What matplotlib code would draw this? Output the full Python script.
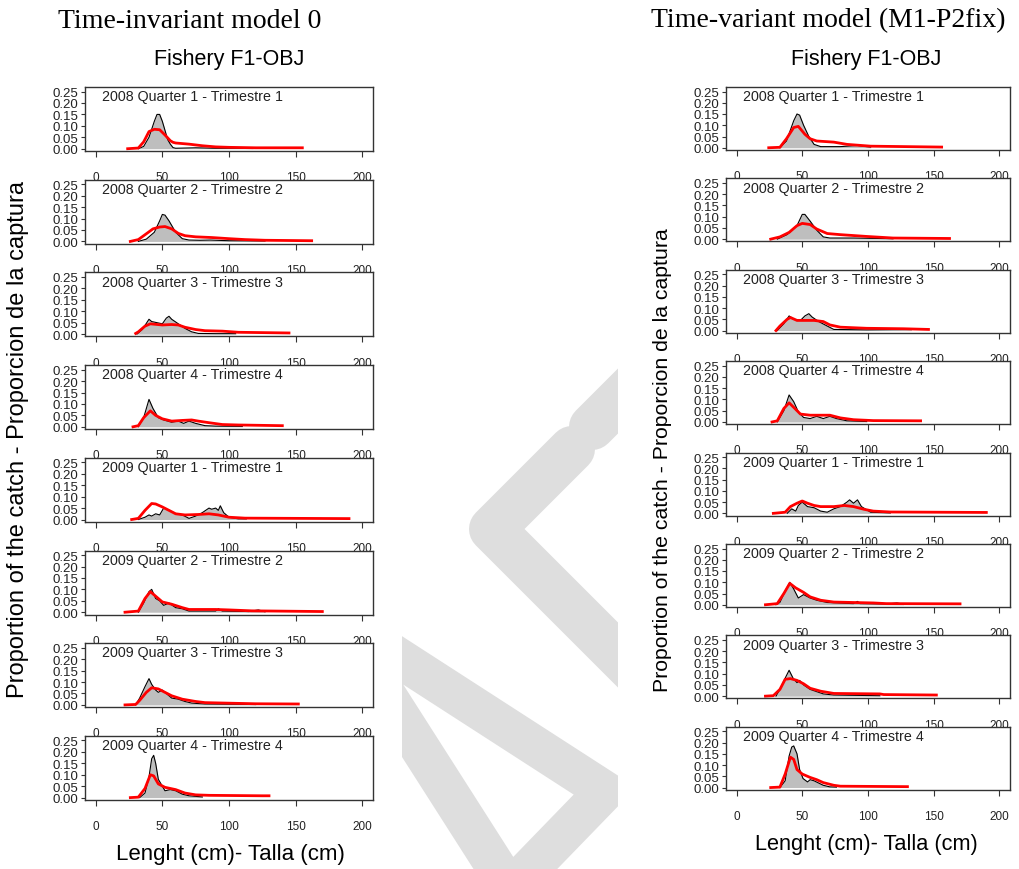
import matplotlib
matplotlib.use("Agg")
import matplotlib.pyplot as plt
from matplotlib.patches import Rectangle

plt.rcParams['font.family'] = ['Liberation Sans', 'DejaVu Sans']

W, H = 1020, 870

# panel titles
quarters = ["2008 Quarter 1 - Trimestre 1", "2008 Quarter 2 - Trimestre 2",
            "2008 Quarter 3 - Trimestre 3", "2008 Quarter 4 - Trimestre 4",
            "2009 Quarter 1 - Trimestre 1", "2009 Quarter 2 - Trimestre 2",
            "2009 Quarter 3 - Trimestre 3", "2009 Quarter 4 - Trimestre 4"]
x_ticks = [0, 50, 100, 150, 200]
y_ticks = [0.00, 0.05, 0.10, 0.15, 0.20, 0.25]

# Time-invariant model 0: observed (grey) and predicted (red)
inv_obs_x = [
    [32, 36, 40, 44, 46, 48, 50, 52, 54, 56, 58, 60, 75, 90, 118],
    [32, 38, 44, 48, 50, 52, 55, 60, 65, 70, 78, 86, 100, 127],
    [31, 35, 40, 42, 46, 50, 53, 55, 57, 62, 67, 72, 77, 90, 105],
    [32, 36, 40, 43, 47, 51, 57, 62, 66, 70, 75, 82, 90, 110],
    [32, 37, 40, 42, 45, 48, 51, 55, 60, 65, 70, 75, 80, 85, 87, 90, 92, 93.5, 96, 100, 107, 113],
    [32, 36, 40, 42, 45, 48, 51, 55, 60, 65, 70, 90, 92, 95, 115, 122, 127],
    [30, 33, 37, 40, 42, 45, 47, 50, 53, 57, 62, 67, 72, 82, 120],
    [33, 37, 40, 42, 43.5, 45, 47, 50, 52, 56, 60, 65, 70, 80],
]
inv_obs_y = [
    [0, 0.01, 0.05, 0.12, 0.15, 0.15, 0.12, 0.08, 0.04, 0.02, 0.005, 0.002, 0.004, 0.002, 0.002],
    [0, 0.01, 0.04, 0.09, 0.118, 0.115, 0.09, 0.04, 0.012, 0.006, 0.005, 0.006, 0.003, 0.002],
    [0, 0.02, 0.065, 0.055, 0.05, 0.045, 0.07, 0.078, 0.065, 0.045, 0.025, 0.01, 0.003, 0.002, 0.002],
    [0, 0.04, 0.12, 0.08, 0.04, 0.03, 0.02, 0.025, 0.015, 0.025, 0.015, 0.005, 0.003, 0.002],
    [0, 0.01, 0.02, 0.015, 0.025, 0.02, 0.05, 0.04, 0.025, 0.02, 0.005, 0.015, 0.03, 0.05, 0.045, 0.05, 0.04, 0.06, 0.03, 0.01, 0.003, 0.003],
    [0, 0.04, 0.09, 0.1, 0.06, 0.05, 0.03, 0.04, 0.02, 0.015, 0.005, 0.005, 0.015, 0.005, 0.003, 0.01, 0.002],
    [0, 0.03, 0.08, 0.115, 0.09, 0.065, 0.055, 0.065, 0.05, 0.03, 0.025, 0.015, 0.008, 0.004, 0.002],
    [0, 0.02, 0.09, 0.17, 0.185, 0.15, 0.08, 0.05, 0.03, 0.035, 0.03, 0.015, 0.008, 0.003],
]
inv_pred_x = [
    [24, 32, 36, 40, 44, 48, 52, 56, 58, 60, 70, 80, 90, 100, 120, 155],
    [26, 32, 36, 40, 43, 48, 52, 57, 62, 67, 75, 87, 100, 112, 127, 162],
    [30, 32, 37, 41, 50, 57, 62, 67, 75, 82, 95, 107, 145],
    [28, 32, 36, 41, 45, 50, 57, 65, 72, 77, 85, 95, 107, 140],
    [27, 32, 37, 42, 45, 50, 55, 60, 67, 77, 85, 92, 100, 112, 190],
    [22, 32, 37, 41, 45, 50, 57, 65, 70, 90, 100, 117, 170],
    [22, 30, 33, 38, 42, 47, 52, 57, 65, 75, 82, 120, 152],
    [26, 32, 37, 41, 43.5, 47, 52, 60, 67, 75, 85, 125, 130],
]
inv_pred_y = [
    [0, 0.003, 0.03, 0.075, 0.085, 0.083, 0.06, 0.035, 0.028, 0.025, 0.02, 0.013, 0.008, 0.006, 0.004, 0.004],
    [0, 0.008, 0.025, 0.042, 0.055, 0.063, 0.065, 0.055, 0.035, 0.025, 0.02, 0.017, 0.012, 0.008, 0.005, 0.003],
    [0.003, 0.01, 0.035, 0.045, 0.04, 0.042, 0.04, 0.03, 0.02, 0.015, 0.013, 0.008, 0.005],
    [0, 0.005, 0.04, 0.07, 0.05, 0.035, 0.025, 0.028, 0.03, 0.025, 0.018, 0.01, 0.008, 0.005],
    [0, 0.005, 0.04, 0.07, 0.068, 0.055, 0.04, 0.025, 0.02, 0.022, 0.025, 0.02, 0.01, 0.006, 0.004],
    [0, 0.005, 0.06, 0.09, 0.07, 0.045, 0.035, 0.02, 0.012, 0.012, 0.01, 0.006, 0.003],
    [0, 0.002, 0.02, 0.055, 0.075, 0.07, 0.055, 0.04, 0.025, 0.015, 0.01, 0.005, 0.004],
    [0, 0.002, 0.04, 0.1, 0.095, 0.06, 0.045, 0.035, 0.02, 0.012, 0.01, 0.008, 0.008],
]

# Time-variant model (M1-P2fix)
var_obs_x = [
    [33, 38, 43.5, 46, 48, 51, 55, 59, 64, 79, 92, 102],
    [31, 38.5, 46, 50, 52, 56, 61, 66, 71, 89, 119],
    [31, 36, 40, 43.5, 48.6, 52, 55, 57.5, 62.5, 69, 74, 99, 130, 133],
    [31, 36, 40, 43.5, 47, 51, 56, 61, 66, 71, 76, 84, 99],
    [38.5, 42, 45, 47, 50, 54, 59, 64, 69, 74, 79, 84, 86, 89, 92, 95, 102, 117],
    [30, 33, 37, 40.5, 43.5, 47, 51, 56, 61, 69, 89, 92, 94, 114, 122, 127],
    [30, 33, 37, 40, 43, 46, 48, 51, 56, 61, 66, 74, 109],
    [33, 37, 40, 42, 43.5, 46, 48, 50.6, 54, 56, 59, 62.5, 66, 71, 76],
]
var_obs_y = [
    [0, 0.03, 0.12, 0.15, 0.145, 0.1, 0.05, 0.015, 0.005, 0.005, 0.01, 0.003],
    [0, 0.02, 0.06, 0.11, 0.11, 0.08, 0.04, 0.01, 0.005, 0.005, 0.002],
    [0, 0.03, 0.065, 0.05, 0.045, 0.065, 0.075, 0.06, 0.04, 0.02, 0.005, 0.003, 0.005, 0.005],
    [0, 0.05, 0.12, 0.09, 0.045, 0.02, 0.015, 0.025, 0.015, 0.025, 0.015, 0.005, 0.002],
    [0, 0.02, 0.01, 0.035, 0.05, 0.03, 0.025, 0.01, 0.005, 0.02, 0.03, 0.05, 0.06, 0.045, 0.06, 0.03, 0.005, 0.002],
    [0, 0.01, 0.06, 0.1, 0.07, 0.03, 0.045, 0.03, 0.02, 0.01, 0.005, 0.015, 0.005, 0.003, 0.008, 0.002],
    [0, 0.03, 0.08, 0.115, 0.08, 0.06, 0.07, 0.05, 0.03, 0.02, 0.01, 0.005, 0.002],
    [0, 0.03, 0.14, 0.18, 0.185, 0.15, 0.08, 0.04, 0.025, 0.035, 0.03, 0.02, 0.01, 0.003, 0.002],
]
var_pred_x = [
    [24.5, 33, 38, 43.5, 47, 52, 56, 61, 74, 84, 102, 156],
    [26, 33, 40, 46, 50, 56, 61, 69, 79, 99, 119, 162],
    [30, 33, 38.5, 41, 46, 59, 66, 71, 79, 99, 127, 146],
    [27, 31, 36, 40, 43.5, 48.6, 56, 71, 79, 89, 104, 140],
    [28, 37, 41, 46, 50, 54, 59, 64, 74, 82, 89, 97, 104, 117, 190],
    [22, 31, 36, 40.5, 45, 51, 56, 64, 74, 89, 104, 114, 170],
    [22, 28, 33, 37, 41, 46, 51, 56, 64, 74, 109, 112, 152],
    [26, 33, 37, 41, 43.5, 46, 50, 56, 61, 66, 74, 79, 130],
]
var_pred_y = [
    [0, 0.002, 0.04, 0.09, 0.095, 0.06, 0.04, 0.03, 0.025, 0.015, 0.007, 0.003],
    [0, 0.01, 0.03, 0.06, 0.07, 0.065, 0.045, 0.025, 0.02, 0.012, 0.005, 0.003],
    [0, 0.02, 0.05, 0.058, 0.045, 0.045, 0.04, 0.025, 0.015, 0.01, 0.008, 0.005],
    [0, 0.005, 0.06, 0.085, 0.065, 0.035, 0.03, 0.03, 0.018, 0.01, 0.006, 0.005],
    [0, 0.005, 0.03, 0.045, 0.055, 0.045, 0.035, 0.03, 0.03, 0.035, 0.03, 0.018, 0.01, 0.006, 0.004],
    [0, 0.005, 0.05, 0.095, 0.075, 0.055, 0.035, 0.02, 0.012, 0.01, 0.008, 0.005, 0.004],
    [0, 0.002, 0.03, 0.075, 0.078, 0.07, 0.055, 0.035, 0.022, 0.012, 0.01, 0.007, 0.005],
    [0, 0.002, 0.06, 0.135, 0.125, 0.08, 0.06, 0.045, 0.035, 0.022, 0.01, 0.006, 0.004],
]


def rect(left, top, width, height):
    # pixel box -> figure fraction
    return [left / W, 1 - (top + height) / H, width / W, height / H]


def ftext(x, y, s, **kw):
    fig.text(x / W, 1 - y / H, s, ha='center', va='center', **kw)


fig = plt.figure(figsize=(W / 100, H / 100), dpi=100)

# light grey watermark behind everything
bg = fig.add_axes([0, 0, 1, 1], zorder=-5)
bg.set_xlim(0, W)
bg.set_ylim(H, 0)
bg.axis('off')
clip = Rectangle((402, 0), 216, H, transform=bg.transData)
wm = '#dedede'
marks = [
    bg.plot([592, 650], [428, 370], color=wm, lw=46 * 0.72, solid_capstyle='round')[0],
    bg.plot([572, 492, 680], [450, 530, 718], color=wm, lw=46 * 0.72,
            solid_capstyle='round', solid_joinstyle='round')[0],
    bg.plot([337, 605, 510, 337], [619, 792, 890, 619], color=wm, lw=40 * 0.72,
            solid_joinstyle='miter')[0],
]
for m in marks:
    m.set_clip_path(clip)


def panel(x0, width, tops, height, obs_x, obs_y, pred_x, pred_y):
    for i, top in enumerate(tops):
        ax = fig.add_axes(rect(x0, top, width, height))
        ax.fill_between(obs_x[i], 0, obs_y[i], color='#bebebe', lw=0)
        ax.plot(obs_x[i], obs_y[i], color='black', lw=0.8)
        ax.plot(pred_x[i], pred_y[i], color='red', lw=2.0)
        ax.set_xlim(-8, 208)
        ax.set_ylim(-0.01, 0.27)
        ax.set_xticks(x_ticks)
        ax.set_yticks(y_ticks)
        ax.set_yticklabels(['%.2f' % v for v in y_ticks])
        ax.tick_params(axis='x', length=4.5, pad=10, labelsize=8.5, width=0.8,
                       color='#333333', labelcolor='#222222')
        ax.tick_params(axis='y', length=3, pad=1.5, labelsize=9.5, width=0.8,
                       color='#333333', labelcolor='#222222')
        for sp in ax.spines.values():
            sp.set_linewidth(1.0)
            sp.set_color('#333333')
        ax.text(0.06, 0.965, quarters[i], transform=ax.transAxes, ha='left', va='top',
                fontsize=10.3, color='#222222')


panel(85, 288, [88 + i * 92.7 for i in range(8)], 64,
      inv_obs_x, inv_obs_y, inv_pred_x, inv_pred_y)
panel(726, 284, [88 + i * 91.4 for i in range(8)], 63,
      var_obs_x, var_obs_y, var_pred_x, var_pred_y)

# titles and axis labels
ftext(190, 21, "Time-invariant model 0", family='Liberation Serif', fontsize=20)
ftext(828, 21, "Time-variant model (M1-P2fix)", family='Liberation Serif', fontsize=20)
ftext(229, 60, "Fishery F1-OBJ", fontsize=15.5)
ftext(866, 60, "Fishery F1-OBJ", fontsize=15.5)
ftext(18, 440, "Proportion of the catch - Proporcion de la captura", fontsize=17, rotation=90)
ftext(662, 460, "Proportion of the catch - Proporcion de la captura", fontsize=15.3, rotation=90)
ftext(230, 855, "Lenght (cm)- Talla (cm)", fontsize=16)
ftext(866, 845, "Lenght (cm)- Talla (cm)", fontsize=15.7)

fig.savefig("out.png", dpi=100)
